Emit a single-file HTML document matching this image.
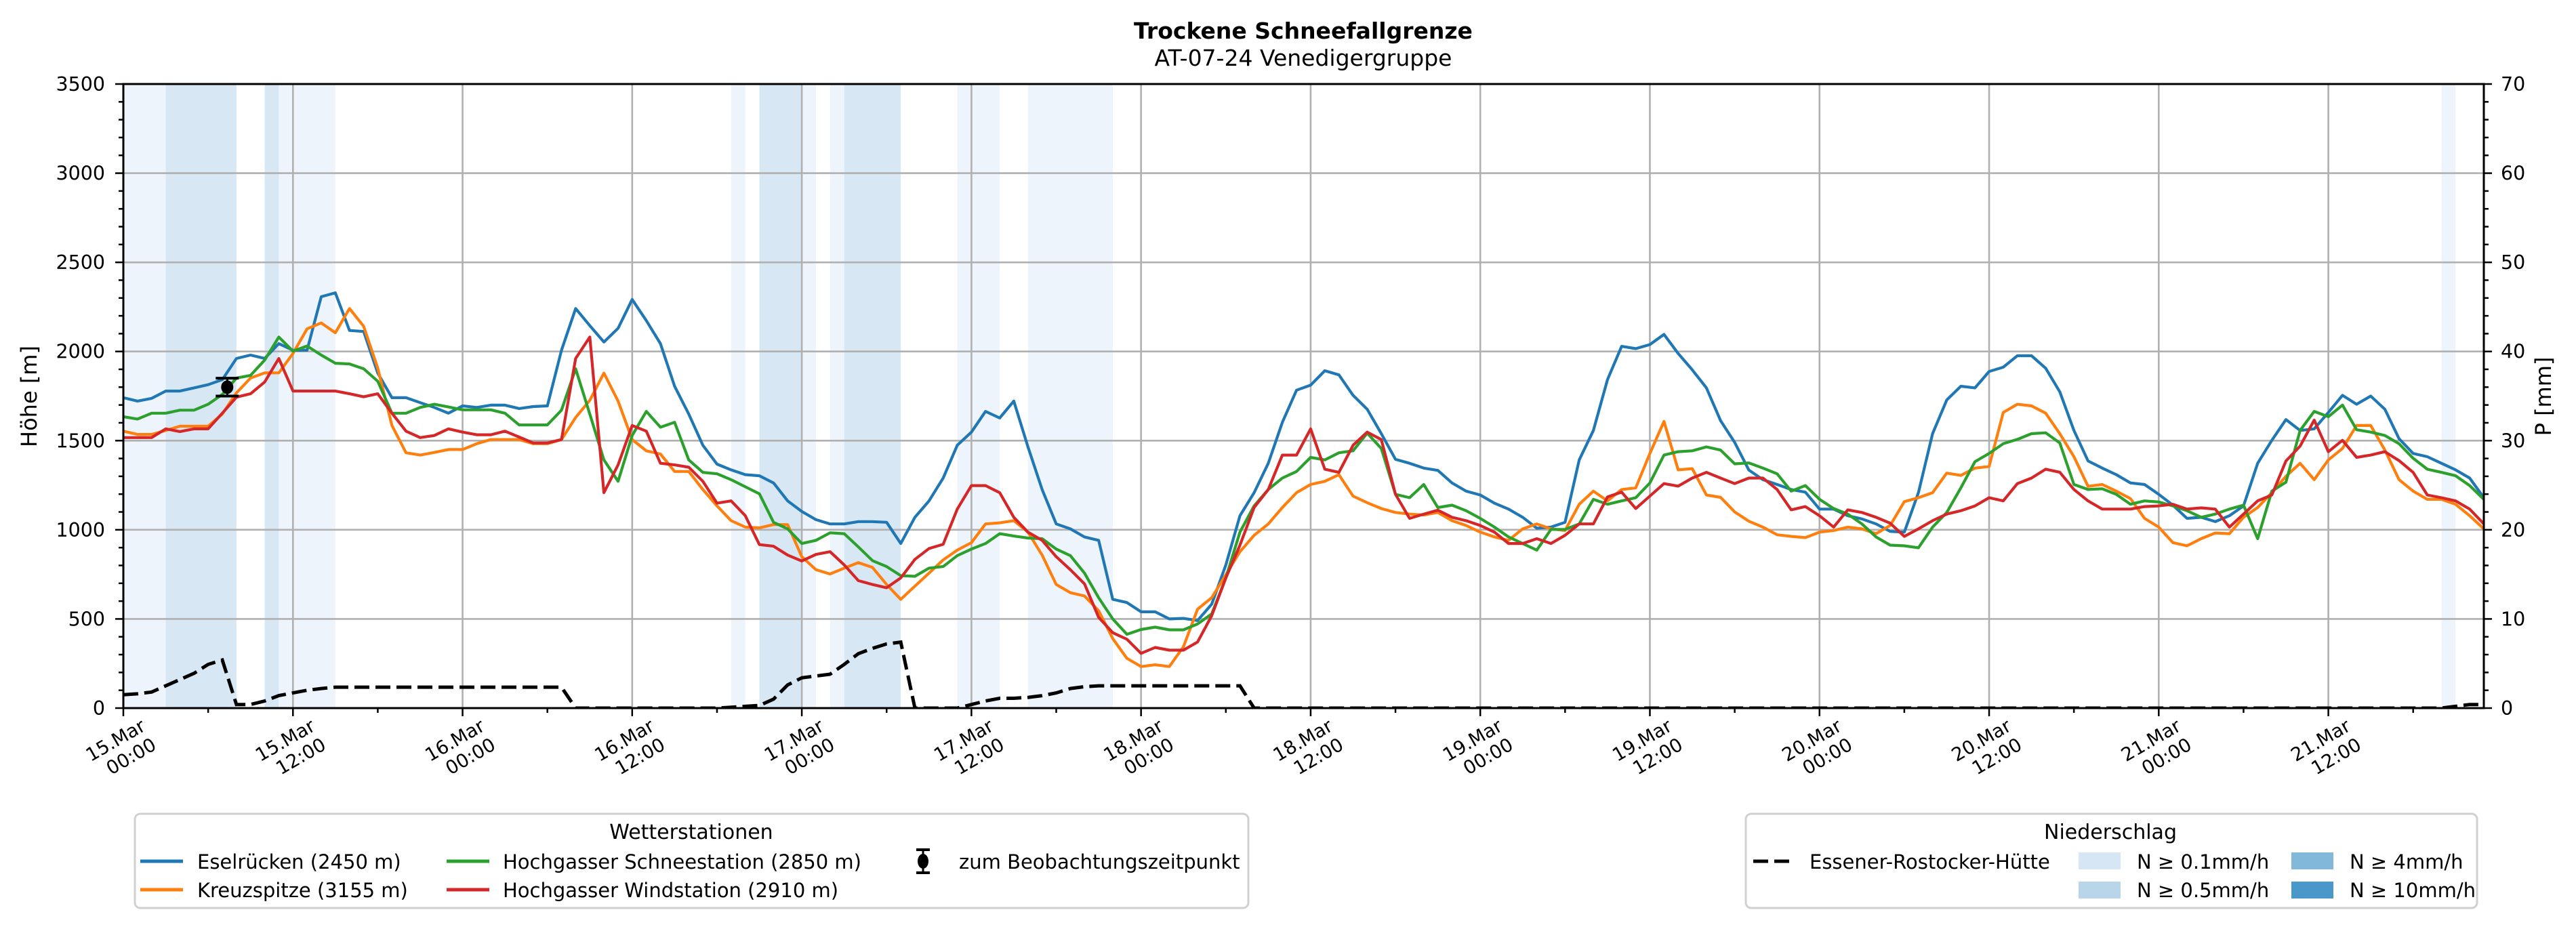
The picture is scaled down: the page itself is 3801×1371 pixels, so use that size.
<!DOCTYPE html>
<html><head><meta charset="utf-8">
<style>
html,body{margin:0;padding:0;background:#fff;}
svg{display:block;font-family:"DejaVu Sans","Liberation Sans",sans-serif;}
</style></head>
<body>
<svg id="chart" width="3801" height="1371" viewBox="0 0 3801 1371" xmlns="http://www.w3.org/2000/svg">
  <rect x="0" y="0" width="3801" height="1371" fill="#fff"/>
  <text x="1923" y="57" text-anchor="middle" font-size="33" font-weight="bold">Trockene Schneefallgrenze</text>
  <text x="1923" y="97" text-anchor="middle" font-size="33">AT-07-24 Venedigergruppe</text>
  <defs><clipPath id="plotclip"><rect x="182" y="124" width="3483" height="921"/></clipPath></defs>
  <g id="bands" clip-path="url(#plotclip)"></g>
  <g id="grid"></g>
  <g id="series" clip-path="url(#plotclip)"></g>
  <g id="axes"></g>
  <text transform="translate(54,585) rotate(-90)" text-anchor="middle" font-size="32">Höhe [m]</text>
  <text transform="translate(3764,585) rotate(-90)" text-anchor="middle" font-size="32">P [mm]</text>

  <g>
    <rect x="199" y="1201" width="1643" height="139" rx="8" fill="#fff" stroke="#d0d0d0" stroke-width="3"/>
    <text x="1020" y="1238" text-anchor="middle" font-size="30">Wetterstationen</text>
    <g>
      <line x1="207" y1="1271" x2="270" y2="1271" stroke="#1f77b4" stroke-width="5"/>
      <text x="291" y="1282" font-size="29">Eselrücken (2450 m)</text>
    </g>
    <g>
      <line x1="207" y1="1313" x2="270" y2="1313" stroke="#ff7f0e" stroke-width="5"/>
      <text x="291" y="1324" font-size="29">Kreuzspitze (3155 m)</text>
    </g>
    <g>
      <line x1="659" y1="1271" x2="722" y2="1271" stroke="#2ca02c" stroke-width="5"/>
      <text x="742" y="1282" font-size="29">Hochgasser Schneestation (2850 m)</text>
    </g>
    <g>
      <line x1="659" y1="1313" x2="722" y2="1313" stroke="#d62728" stroke-width="5"/>
      <text x="742" y="1324" font-size="29">Hochgasser Windstation (2910 m)</text>
    </g>
    <g>
      <line x1="1362" y1="1254" x2="1362" y2="1288" stroke="#000" stroke-width="3"/>
      <line x1="1352" y1="1254" x2="1372" y2="1254" stroke="#000" stroke-width="4"/>
      <line x1="1352" y1="1288" x2="1372" y2="1288" stroke="#000" stroke-width="4"/>
      <ellipse cx="1362" cy="1271" rx="8" ry="11" fill="#000"/>
      <text x="1415" y="1282" font-size="29">zum Beobachtungszeitpunkt</text>
    </g>
  </g>

  <g>
    <rect x="2576" y="1201" width="1079" height="139" rx="8" fill="#fff" stroke="#d0d0d0" stroke-width="3"/>
    <text x="3114" y="1238" text-anchor="middle" font-size="30">Niederschlag</text>
    <g>
      <line x1="2587" y1="1271" x2="2647" y2="1271" stroke="#000" stroke-width="5" stroke-dasharray="22 9"/>
      <text x="2670" y="1282" font-size="29">Essener-Rostocker-Hütte</text>
    </g>
    <g>
      <rect x="3067" y="1258" width="62" height="25" fill="#d6e6f4"/>
      <text x="3153" y="1282" font-size="29">N ≥ 0.1mm/h</text>
    </g>
    <g>
      <rect x="3067" y="1301" width="62" height="25" fill="#b9d5ea"/>
      <text x="3153" y="1324" font-size="29">N ≥ 0.5mm/h</text>
    </g>
    <g>
      <rect x="3381" y="1258" width="62" height="25" fill="#82b8da"/>
      <text x="3467" y="1282" font-size="29">N ≥ 4mm/h</text>
    </g>
    <g>
      <rect x="3381" y="1301" width="62" height="25" fill="#4a97c9"/>
      <text x="3467" y="1324" font-size="29">N ≥ 10mm/h</text>
    </g>
  </g>
</svg>
<script>
// ---- data ----
const hours = Array.from({length:168},(_, i)=>i);
const eselruecken = [1741,1722,1737,1778,1778,1796,1814,1842,1961,1980,1961,2044,2007,2007,2307,2329,2118,2112,1879,1741,1741,1713,1686,1654,1695,1686,1699,1699,1680,1691,1695,2007,2241,2145,2053,2130,2292,2173,2044,1805,1649,1474,1368,1336,1309,1303,1263,1162,1103,1057,1033,1033,1046,1046,1042,923,1070,1162,1290,1474,1548,1664,1627,1722,1465,1226,1033,1005,960,941,610,592,540,540,500,503,491,583,803,1079,1208,1373,1603,1783,1811,1892,1869,1754,1676,1539,1395,1373,1346,1333,1263,1217,1195,1149,1116,1070,1009,1015,1042,1392,1557,1842,2029,2016,2039,2096,1989,1897,1796,1612,1490,1335,1281,1254,1226,1211,1116,1116,1079,1061,1033,991,987,1208,1539,1728,1805,1796,1888,1912,1976,1976,1906,1774,1557,1386,1346,1309,1263,1254,1199,1138,1064,1070,1046,1079,1134,1373,1502,1618,1557,1566,1658,1754,1704,1750,1676,1511,1428,1410,1373,1336,1290,1180];
const kreuzspitze = [1553,1535,1535,1557,1581,1581,1581,1649,1768,1851,1880,1880,1989,2127,2160,2105,2241,2141,1906,1585,1432,1419,1434,1450,1450,1483,1506,1506,1506,1483,1483,1506,1630,1726,1879,1722,1506,1443,1425,1327,1327,1226,1134,1051,1015,1011,1029,1029,849,776,752,785,816,789,693,610,684,757,831,886,928,1033,1039,1051,987,858,693,647,629,546,390,279,233,243,233,344,555,619,748,877,969,1033,1125,1208,1254,1272,1309,1189,1152,1119,1097,1088,1083,1097,1051,1024,987,960,941,1005,1033,1005,996,1143,1217,1162,1226,1235,1428,1608,1336,1343,1195,1182,1100,1048,1015,972,963,956,987,996,1015,1005,978,1024,1158,1180,1208,1318,1305,1346,1355,1658,1704,1695,1654,1539,1410,1244,1254,1217,1175,1064,1015,928,910,950,982,978,1070,1125,1208,1300,1373,1281,1392,1456,1585,1585,1447,1281,1217,1171,1171,1143,1079,1005];
const schneestation = [1634,1621,1654,1654,1671,1671,1704,1759,1851,1866,1952,2081,2002,2031,1980,1934,1930,1903,1833,1654,1654,1686,1704,1689,1673,1673,1673,1654,1588,1588,1588,1671,1903,1649,1392,1272,1529,1664,1575,1603,1392,1322,1314,1281,1241,1202,1042,1005,923,941,983,978,904,827,794,743,739,785,794,855,892,923,978,965,954,950,892,855,757,619,500,414,441,454,439,439,472,528,730,987,1134,1226,1290,1327,1406,1392,1432,1443,1542,1456,1199,1180,1254,1125,1138,1107,1064,1015,960,923,886,1002,1002,1033,1171,1143,1162,1180,1263,1419,1438,1443,1465,1447,1370,1375,1346,1314,1217,1248,1171,1119,1088,1033,960,914,910,899,1015,1097,1235,1382,1428,1483,1507,1539,1544,1487,1254,1226,1230,1199,1143,1162,1156,1134,1107,1070,1088,1116,1138,950,1217,1267,1557,1664,1634,1700,1561,1548,1529,1483,1401,1340,1322,1303,1248,1171];
const windstation = [1517,1517,1517,1566,1551,1566,1566,1654,1744,1763,1829,1961,1778,1778,1778,1778,1763,1746,1763,1654,1553,1517,1529,1566,1548,1533,1533,1553,1520,1487,1487,1506,1961,2081,1208,1364,1585,1553,1373,1364,1351,1272,1149,1162,1079,917,908,858,825,862,877,803,715,693,675,730,834,895,919,1116,1248,1248,1208,1070,987,941,849,776,697,509,423,386,307,340,325,325,371,518,730,914,1125,1226,1419,1419,1566,1340,1322,1474,1548,1506,1199,1064,1088,1110,1070,1051,1024,987,923,923,950,923,969,1033,1033,1184,1211,1119,1189,1259,1245,1290,1322,1290,1259,1290,1290,1226,1112,1130,1079,1015,1112,1097,1070,1037,963,1005,1051,1088,1107,1134,1180,1162,1259,1290,1340,1323,1226,1162,1116,1116,1116,1130,1134,1143,1116,1123,1116,1015,1088,1162,1195,1386,1469,1615,1438,1502,1406,1419,1438,1388,1322,1195,1180,1162,1116,1033];
const precipMm = [1.5,1.6,1.8,2.5,3.2,3.9,4.9,5.4,0.4,0.4,0.8,1.4,1.7,2.0,2.2,2.35,2.35,2.35,2.35,2.35,2.35,2.35,2.35,2.35,2.35,2.35,2.35,2.35,2.35,2.35,2.35,2.35,0,0,0,0,0,0,0,0,0,0,0,0.1,0.2,0.3,1.0,2.6,3.4,3.6,3.8,4.9,6.1,6.7,7.2,7.4,0,0,0,0,0.4,0.8,1.1,1.1,1.2,1.4,1.7,2.2,2.4,2.5,2.5,2.5,2.5,2.5,2.5,2.5,2.5,2.5,2.5,2.5,0,0,0,0,0,0,0,0,0,0,0,0,0,0,0,0,0,0,0,0,0,0,0,0,0,0,0,0,0,0,0,0,0,0,0,0,0,0,0,0,0,0,0,0,0,0,0,0,0,0,0,0,0,0,0,0,0,0,0,0,0,0,0,0,0,0,0,0,0,0,0,0,0,0,0,0,0,0,0,0,0,0,0,0,0,0.2,0.4,0.4];
// precipitation intensity bands [startHour, endHour, level]
const bandStart = [0,3,10,11,43,45,48,50,51,59,64,164];
const bandEnd   = [3,8,11,15,44,48,49,51,55,62,70,165];
const bandLevel = [1,2,2,1,1,2,1,1,2,1,1,1];
const obsHour = 7.35, obsValue = 1800, obsErr = 50;
const xTickLabels1 = ["15.Mar","15.Mar","16.Mar","16.Mar","17.Mar","17.Mar","18.Mar","18.Mar","19.Mar","19.Mar","20.Mar","20.Mar","21.Mar","21.Mar"];
const xTickLabels2 = ["00:00","12:00","00:00","12:00","00:00","12:00","00:00","12:00","00:00","12:00","00:00","12:00","00:00","12:00"];
const yTicks = [0,500,1000,1500,2000,2500,3000,3500];
const y2Ticks = [0,10,20,30,40,50,60,70];

// ---- scales ----
const X0=182, X1=3665, Y0=1045, Y1=124, HMAX=167, VMAX=3500, PMAX=70;
const xs = h => X0 + h*(X1-X0)/HMAX;
const ys = v => Y0 - v*(Y0-Y1)/VMAX;
const yp = p => Y0 - p*(Y0-Y1)/PMAX;
const NS="http://www.w3.org/2000/svg";
function mk(tag, attrs, parent){const e=document.createElementNS(NS,tag);for(const k in attrs)e.setAttribute(k,attrs[k]);parent.appendChild(e);return e;}

const bands=document.getElementById('bands'), grid=document.getElementById('grid'), series=document.getElementById('series'), axes=document.getElementById('axes');
bandStart.forEach((s,i)=>{
  const r=mk('rect',{x:xs(s),y:Y1,width:xs(bandEnd[i])-xs(s),height:Y0-Y1,fill:bandLevel[i]===2?'#d8e7f4':'#eef4fb'},bands);
  
  
});
for(let k=0;k<xTickLabels1.length;k++){const x=xs(k*12);
  const l=mk('line',{x1:x,y1:Y1,x2:x,y2:Y0,stroke:'#b0b0b0','stroke-width':2.6},grid);
  
  }
yTicks.forEach(v=>{const y=ys(v);
  const l=mk('line',{x1:X0,y1:y,x2:X1,y2:y,stroke:'#b0b0b0','stroke-width':2.6},grid);
  
  });
function linePath(vals, sc){return vals.map((v,i)=>(i?'L':'M')+xs(hours[i]).toFixed(1)+','+sc(v).toFixed(1)).join('');}
const pp=mk('path',{d:linePath(precipMm,yp),fill:'none',stroke:'#000','stroke-width':5,'stroke-dasharray':'22 9'},series);


const seriesList=[[eselruecken,'#1f77b4','line-eselruecken'],[kreuzspitze,'#ff7f0e','line-kreuzspitze'],[schneestation,'#2ca02c','line-schneestation'],[windstation,'#d62728','line-windstation']];
seriesList.forEach(s=>{const p=mk('path',{d:linePath(s[0],ys),fill:'none',stroke:s[1],'stroke-width':4.2,'stroke-linejoin':'round'},series);
  
  });
const og=mk('g',{},series);


const ox=xs(obsHour);
mk('line',{x1:ox,y1:ys(obsValue+obsErr),x2:ox,y2:ys(obsValue-obsErr),stroke:'#000','stroke-width':3},og);
mk('line',{x1:ox-17,y1:ys(obsValue+obsErr),x2:ox+17,y2:ys(obsValue+obsErr),stroke:'#000','stroke-width':4},og);
mk('line',{x1:ox-17,y1:ys(obsValue-obsErr),x2:ox+17,y2:ys(obsValue-obsErr),stroke:'#000','stroke-width':4},og);
mk('ellipse',{cx:ox,cy:ys(obsValue),rx:9,ry:10,fill:'#000'},og);
const fr=mk('rect',{x:X0,y:Y1,width:X1-X0,height:Y0-Y1,fill:'none',stroke:'#000','stroke-width':3},axes);


for(let v=0;v<=VMAX;v+=100){const y=ys(v);const major=v%500===0;const L=major?12:7;
  mk('line',{x1:X0-L,y1:y,x2:X0,y2:y,stroke:'#000','stroke-width':2.5},axes);
  mk('line',{x1:X1,y1:y,x2:X1+L,y2:y,stroke:'#000','stroke-width':2.5},axes);}
yTicks.forEach(v=>{const t=mk('text',{x:155,y:ys(v)+10,'text-anchor':'end','font-size':28.5},axes);t.textContent=v;
  
  });
y2Ticks.forEach(p=>{const t=mk('text',{x:3690,y:yp(p)+10,'text-anchor':'start','font-size':28.5},axes);t.textContent=p;
  
  });
for(let h=0;h<=HMAX;h+=6){const x=xs(h);const major=h%12===0;
  mk('line',{x1:x,y1:Y0,x2:x,y2:Y0+(major?12:7),stroke:'#000','stroke-width':2.5},axes);}
xTickLabels1.forEach((lab,k)=>{const x=xs(k*12)-4;
  const g=mk('g',{transform:`translate(${x.toFixed(1)},1106) rotate(-30)`},axes);
  
  
  const t1=mk('text',{x:48,y:-6,'text-anchor':'end','font-size':27.5},g);t1.textContent=lab;
  const t2=mk('text',{x:48,y:26,'text-anchor':'end','font-size':27.5},g);t2.textContent=xTickLabels2[k];
});
</script>
</body></html>
